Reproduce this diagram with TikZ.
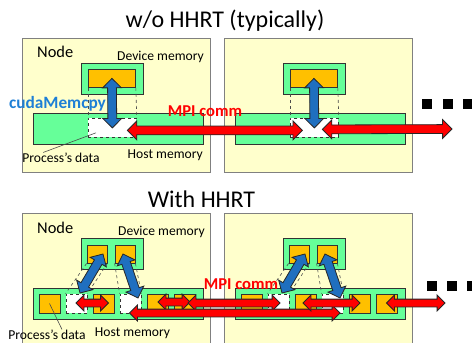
\documentclass[tikz,border=0pt]{standalone}
\usepackage{fontspec}
\setmainfont{Carlito}
\usetikzlibrary{calc,shapes.arrows}

\definecolor{panelfill}{HTML}{FFFFCC}
\definecolor{memgreen}{HTML}{66FF99}
\definecolor{slotorange}{HTML}{FFC000}
\definecolor{copyblue}{HTML}{1F6FBF}
\definecolor{labelblue}{HTML}{1E7FD6}
\definecolor{commred}{HTML}{FF0000}

% fat two-headed arrow between two points
\newcommand{\fatarrow}[3]{%
  \path let \p1=#2, \p2=#3, \n1={atan2(\y2-\y1,\x2-\x1)}, \n2={veclen(\x2-\x1,\y2-\y1)} in
    node[#1, minimum height=\n2, rotate=\n1] at ($(\p1)!0.5!(\p2)$) {};}

\begin{document}
\begin{tikzpicture}[x=1pt, y=-1pt,
    panel/.style={draw=black!50, fill=panelfill, inner sep=0pt, anchor=north west},
    mem/.style={draw=black!80, fill=memgreen, line width=0.8pt, inner sep=0pt, anchor=north west},
    slot/.style={draw=black!80, fill=slotorange, line width=0.8pt, inner sep=0pt, minimum width=21pt, minimum height=19pt},
    hole/.style={slot, fill=white, dashed},
    guide/.style={black!70, dashed, line width=0.6pt},
    fat/.style={double arrow, draw=black!85, line width=0.8pt, inner sep=4pt, double arrow head extend=5pt},
    mpiarr/.style={fat, fill=commred},
    mpiarrs/.style={mpiarr, inner sep=3.5pt, double arrow head extend=4pt},
    cpyarr/.style={fat, fill=copyblue},
    lbl/.style={inner sep=0pt, font=\fontsize{13.6}{15}\selectfont},
    nodelbl/.style={inner sep=0pt, anchor=west, font=\fontsize{16.4}{18}\selectfont},
    heading/.style={inner sep=0pt, font=\fontsize{24}{28}\selectfont},
    mpilbl/.style={inner sep=0pt, text=commred, font=\bfseries\fontsize{16.6}{19}\selectfont},
    etc/.style={fill=black, inner sep=0pt, minimum size=10pt}]
  \useasboundingbox (0,0) rectangle (472,343);
  \clip (0,0) rectangle (472,343);

  % ---- without HHRT
  \node[heading] (ttitle) at (225,21) {w/o HHRT (typically)};
  \foreach \side/\dx in {a/0,b/202} {
    \node[panel, minimum width=188pt, minimum height=134pt] (tpanel\side) at (22+\dx,38) {};
    \node[mem, minimum width=62pt, minimum height=31pt] (tdev\side) at (81+\dx,63) {};
    \node[slot, minimum width=47pt, minimum height=18pt, anchor=north west] (tbuf\side) at (88+\dx,69) {};
    \node[mem, minimum width=170pt, minimum height=31pt] (thost\side) at (33+\dx,113) {};
    \node[hole, minimum width=48pt, minimum height=19pt, anchor=north west] (thole\side) at (88+\dx,118) {};
    \draw[guide] (tbuf\side.south west) -- (thole\side.north west);
    \draw[guide] (tbuf\side.south east) -- (thole\side.north east);
    \fatarrow{cpyarr}{(tbuf\side.center)}{(thole\side.center)}
  }
  \node[nodelbl] (tnode) at (37,52) {Node};
  \node[lbl, anchor=east] (tdevlbl) at (204,57) {Device memory};
  \node[lbl, anchor=east] (thostlbl) at (203,155) {Host memory};
  \node[lbl] (tdata) at (61,157.5) {Process’s data};
  \draw[black!70, line width=0.6pt] ($(tdata.north west)+(21,0)$) -- ($(tholea.south west)+(8,-5)$);
  \node[inner sep=0pt, text=labelblue, font=\bfseries\fontsize{17.3}{19}\selectfont] (tcopy) at (57.5,104) {cudaMemcpy};

  \coordinate (tnext) at (452,129);
  \fatarrow{mpiarr}{($(tholea.center)+(15,2.5)$)}{($(tholeb.center)+(-12,2.5)$)}
  \fatarrow{mpiarr}{($(tholeb.center)+(8,1.5)$)}{(tnext)}
  \node[mpilbl] (tmpi) at (205,111) {MPI comm};
  \foreach \i in {0,1,2}
    \node[etc] (tetc\i) at (427+20.5*\i,104) {};

  % ---- with HHRT
  \node[heading] (btitle) at (201.5,199) {With HHRT};
  \foreach \side/\dx in {a/0,b/202} {
    \node[panel, minimum width=188pt, minimum height=150pt] (bpanel\side) at (22+\dx,213) {};
    \node[mem, minimum width=62pt, minimum height=31pt] (bdev\side) at (81+\dx,238) {};
    \node[slot, minimum width=20pt, minimum height=18pt] (bbuf\side1) at (97+\dx,254) {};
    \node[slot, minimum width=20pt, minimum height=18pt] (bbuf\side2) at (125+\dx,254) {};
    \node[mem, minimum width=170pt, minimum height=31pt] (bhost\side) at (33+\dx,288) {};
    \foreach \k in {1,3,5,6}
      \node[slot] (bslot\side\k) at (22.5+27*\k+\dx,303.5) {};
    \foreach \k in {2,4}
      \node[hole] (bslot\side\k) at (22.5+27*\k+\dx,303.5) {};
    \draw[guide] (bbuf\side1.south west) -- (bslot\side2.north west);
    \draw[guide] (bbuf\side1.south east) -- (bslot\side2.north east);
    \draw[guide] (bbuf\side2.south west) -- (bslot\side4.north west);
    \draw[guide] (bbuf\side2.south east) -- (bslot\side4.north east);
    \fatarrow{cpyarr}{($(bbuf\side1.center)+(6,0)$)}{($(bslot\side2.center)+(3.5,-10.5)$)}
    \fatarrow{cpyarr}{($(bbuf\side2.center)+(-2,0)$)}{($(bslot\side4.center)+(7.5,-5.5)$)}
  }
  \node[nodelbl] (bnode) at (37,228) {Node};
  \node[lbl, anchor=east] (bdevlbl) at (205,232) {Device memory};
  \node[lbl] (bhostlbl) at (132.5,333) {Host memory};
  \node[lbl] (bdata) at (47,334.5) {Process’s data};
  \draw[black!70, line width=0.6pt] (bslota1.center) -- ($(bdata.north)+(15,0)$);

  \coordinate (bnext) at (445,303);
  \fatarrow{mpiarrs}{($(bslota2.center)+(-0.5,-0.5)$)}{($(bslota3.center)+(5,-0.5)$)}
  \fatarrow{mpiarrs}{($(bslota5.center)+(0.5,-1.5)$)}{($(bslota6.center)+(5.5,-1.5)$)}
  \fatarrow{mpiarrs}{($(bslota6.center)+(3.5,-0.5)$)}{($(bslotb2.center)+(1.5,-0.5)$)}
  \fatarrow{mpiarrs}{($(bslota4.center)+(-1,9.5)$)}{($(bslotb4.center)+(7.5,9.5)$)}
  \fatarrow{mpiarrs}{($(bslotb3.center)+(-2.5,-0.5)$)}{($(bslotb5.center)+(0.5,-0.5)$)}
  \fatarrow{mpiarrs}{($(bslotb6.center)+(0,-0.5)$)}{(bnext)}
  \node[mpilbl] (bmpi) at (241,284) {MPI comm};
  \foreach \i in {0,1,2}
    \node[etc] (betc\i) at (432+20*\i,286) {};
\end{tikzpicture}
\end{document}
